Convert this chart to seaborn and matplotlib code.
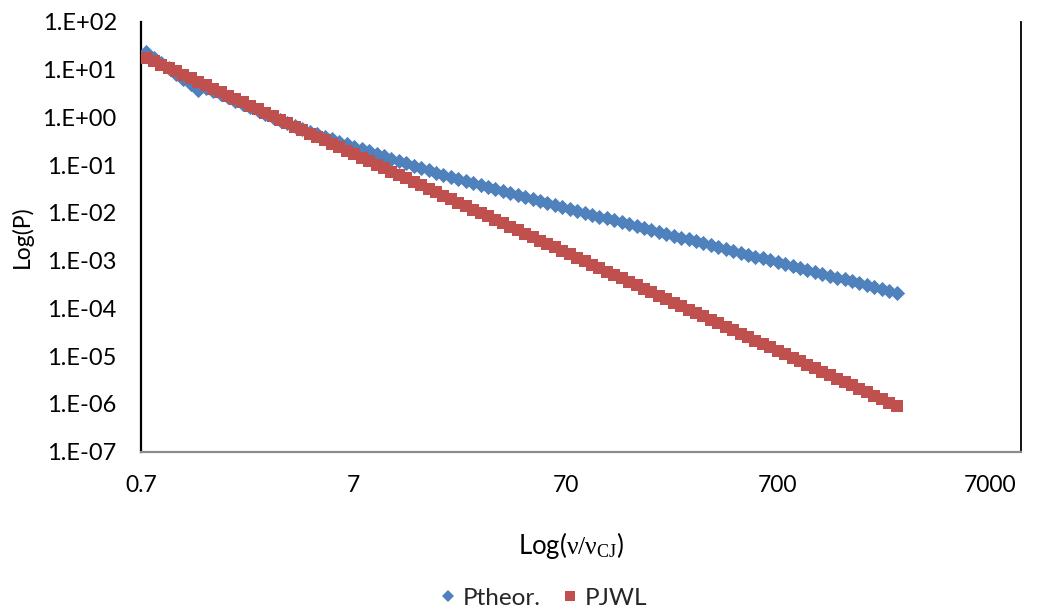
import matplotlib
matplotlib.use("Agg")
import matplotlib.pyplot as plt
import numpy as np
import pandas as pd
import seaborn as sns
from matplotlib.ticker import FixedLocator, FuncFormatter, NullLocator
from matplotlib.lines import Line2D

# ---------------- data ----------------
v_ratio = [0.741, 0.804, 0.871, 0.944, 1.023, 1.109, 1.202, 1.303, 1.413, 1.531,
           1.660, 1.799, 1.950, 2.113, 2.291, 2.483, 2.692, 2.917, 3.162, 3.428,
           3.715, 4.027, 4.365, 4.732, 5.129, 5.559, 6.026, 6.531, 7.080, 7.674,
           8.318, 9.016, 9.772, 10.59, 11.48, 12.45, 13.49, 14.62, 15.85, 17.18,
           18.62, 20.18, 21.88, 23.71, 25.70, 27.86, 30.20, 32.73, 35.48, 38.46,
           41.69, 45.19, 48.98, 53.09, 57.54, 62.37, 67.61, 73.28, 79.43, 86.10,
           93.33, 101.2, 109.6, 118.9, 128.8, 139.6, 151.4, 164.1, 177.8, 192.8,
           208.9, 226.5, 245.5, 266.1, 288.4, 312.6, 338.8, 367.3, 398.1, 431.5,
           467.7, 507.0, 549.5, 595.7, 645.7, 699.8, 758.6, 822.2, 891.3, 966.1,
           1047, 1135, 1230, 1334, 1445, 1567, 1698, 1841, 1995, 2163,
           2344, 2541]

p_theor = [22.9, 17.7, 13.7, 10.6, 8.17, 6.31, 4.88, 3.77, 4.17, 3.56,
           3.05, 2.60, 2.22, 1.90, 1.63, 1.39, 1.19, 1.01, 0.867, 0.746,
           0.649, 0.566, 0.497, 0.438, 0.387, 0.343, 0.304, 0.270, 0.241, 0.215,
           0.192, 0.171, 0.153, 0.136, 0.121, 0.108, 0.0966, 0.0861, 0.0769, 0.0689,
           0.0618, 0.0557, 0.0504, 0.0456, 0.0413, 0.0375, 0.0341, 0.0310, 0.0281, 0.0256,
           0.0232, 0.0211, 0.0192, 0.0174, 0.0159, 0.0145, 0.0132, 0.0121, 0.0110, 0.0100,
           0.00916, 0.00836, 0.00762, 0.00695, 0.00634, 0.00578, 0.00527, 0.00482, 0.00440, 0.00401,
           0.00366, 0.00333, 0.00304, 0.00277, 0.00253, 0.00231, 0.00211, 0.00192, 0.00175, 0.00160,
           0.00146, 0.00133, 0.00121, 0.00111, 0.00101, 0.000923, 0.000841, 0.000767, 0.000700, 0.000638,
           0.000582, 0.000531, 0.000484, 0.000442, 0.000404, 0.000368, 0.000336, 0.000306, 0.000279, 0.000255,
           0.000232, 0.000212]

p_jwl = [17.7, 15.0, 12.7, 10.8, 9.11, 7.72, 6.53, 5.53, 4.69, 3.97,
         3.36, 2.84, 2.41, 2.04, 1.73, 1.46, 1.24, 1.05, 0.888, 0.752,
         0.637, 0.539, 0.456, 0.386, 0.327, 0.277, 0.235, 0.199, 0.168, 0.142,
         0.121, 0.102, 0.0865, 0.0732, 0.0620, 0.0525, 0.0445, 0.0376, 0.0319, 0.0270,
         0.0229, 0.0194, 0.0164, 0.0139, 0.0117, 0.00995, 0.00843, 0.00713, 0.00604, 0.00511,
         0.00433, 0.00367, 0.00310, 0.00263, 0.00223, 0.00189, 0.00160, 0.00135, 0.00115, 0.000969,
         0.000821, 0.000695, 0.000588, 0.000498, 0.000422, 0.000357, 0.000303, 0.000256, 0.000217, 0.000184,
         0.000156, 0.000132, 0.000112, 9.44e-5, 7.99e-5, 6.77e-5, 5.73e-5, 4.85e-5, 4.11e-5, 3.48e-5,
         2.95e-5, 2.50e-5, 2.11e-5, 1.79e-5, 1.52e-5, 1.28e-5, 1.09e-5, 9.20e-6, 7.79e-6, 6.60e-6,
         5.58e-6, 4.73e-6, 4.00e-6, 3.39e-6, 2.87e-6, 2.43e-6, 2.06e-6, 1.74e-6, 1.48e-6, 1.25e-6,
         1.06e-6, 8.96e-7]

series_names = ["Ptheor.", "PJWL"]
x_ticks = [0.7, 7, 70, 700, 7000]
x_tick_labels = ["0.7", "7", "70", "700", "7000"]
y_exponents = [-7, -6, -5, -4, -3, -2, -1, 0, 1, 2]
x_limits = [0.7, 9800]
y_limits = [1e-7, 1e2]

# ---------------- styling ----------------
sns.set_theme(style="white")
plt.rcParams["font.family"] = ["Lato", "DejaVu Sans"]
plt.rcParams["mathtext.fontset"] = "custom"
plt.rcParams["mathtext.rm"] = "Liberation Serif"
plt.rcParams["mathtext.it"] = "Liberation Serif"
plt.rcParams["mathtext.bf"] = "Liberation Serif:bold"

colors = {"Ptheor.": "#4F81BD", "PJWL": "#C0504D"}
markers = {"Ptheor.": "D", "PJWL": "s"}
sizes = {"Ptheor.": 60, "PJWL": 66}

W, H = 1040, 613
left, right, top, bottom = 141, 1021, 21.7, 451.7
fig = plt.figure(figsize=(W / 100, H / 100), dpi=100)
ax = fig.add_axes([left / W, 1 - bottom / H, (right - left) / W, (bottom - top) / H])

df = pd.DataFrame({
    "v": v_ratio * 2,
    "P": p_theor + p_jwl,
    "series": [series_names[0]] * len(v_ratio) + [series_names[1]] * len(v_ratio),
})

for name in series_names:
    sub = df[df["series"] == name]
    sns.scatterplot(data=sub, x="v", y="P", marker=markers[name], color=colors[name],
                    s=sizes[name], linewidth=0, ax=ax, legend=False, zorder=3)

ax.set_xscale("log")
ax.set_yscale("log")
ax.set_xlim(*x_limits)
ax.set_ylim(*y_limits)

ax.xaxis.set_major_locator(FixedLocator(x_ticks))
ax.set_xticklabels(x_tick_labels)
ax.xaxis.set_minor_locator(NullLocator())
ax.yaxis.set_major_locator(FixedLocator([10.0 ** e for e in y_exponents]))
ax.yaxis.set_major_formatter(FuncFormatter(lambda y, pos: "1.E%+03d" % int(round(np.log10(y)))))
ax.yaxis.set_minor_locator(NullLocator())

ax.tick_params(axis="y", direction="inout", length=11, width=1.4, color="black",
               labelsize=17, pad=12, labelcolor="black")
ax.tick_params(axis="x", direction="out", length=5, width=1.3, color="#8C8C8C",
               labelsize=16.5, pad=12, labelcolor="black")

ax.spines["top"].set_visible(False)
ax.spines["left"].set_color("black")
ax.spines["left"].set_linewidth(1.6)
ax.spines["right"].set_color("black")
ax.spines["right"].set_linewidth(1.3)
ax.spines["bottom"].set_color("#8C8C8C")
ax.spines["bottom"].set_linewidth(1.6)

ax.set_xlabel(r"Log($\mathrm{ν/ν_{CJ}}$)", fontsize=18.5, color="black")
ax.set_ylabel("Log(P)", fontsize=16.5, color="black")
ax.xaxis.set_label_coords((571 - left) / (right - left), (bottom - 530) / (bottom - top))
ax.yaxis.set_label_coords((33 - left) / (right - left), 0.5)

handles = [Line2D([0], [0], marker=markers[n], color="none", markerfacecolor=colors[n],
                  markeredgewidth=0, markersize=np.sqrt(sizes[n]) * 0.8, label=n)
           for n in series_names]
fig.legend(handles=handles, loc="center", bbox_to_anchor=(544 / W, 1 - 598 / H), ncol=2,
           frameon=False, fontsize=17.5, handlelength=0.6, handletextpad=0.3,
           columnspacing=0.9)

fig.savefig("out.png", dpi=100)
